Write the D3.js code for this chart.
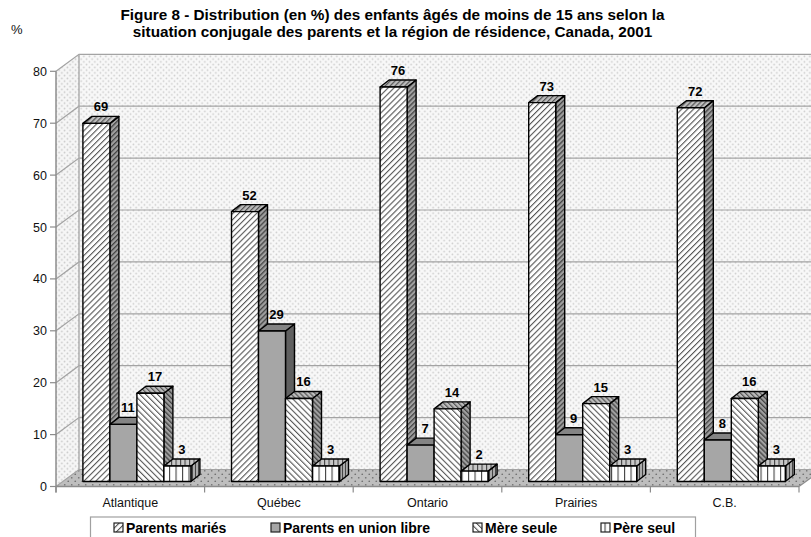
<!DOCTYPE html>
<html>
<head>
<meta charset="utf-8">
<script src="https://cdn.jsdelivr.net/npm/d3@7"></script>
<style>
html,body{margin:0;padding:0;background:#fff;}
svg{display:block;font-family:"Liberation Sans",Arial,sans-serif;}
</style>
</head>
<body>
<svg id="chart" width="811" height="537"></svg>
<script>
const regions = ["Atlantique","Québec","Ontario","Prairies","C.B."];
const seriesNames = ["Parents mariés","Parents en union libre","Mère seule","Père seul"];
const maries = [69,52,76,73,72];
const unionLibre = [11,29,7,9,8];
const mereSeule = [17,16,14,15,16];
const pereSeul = [3,3,2,3,3];
const seriesValues = [maries,unionLibre,mereSeule,pereSeul];
const yTicks = [0,10,20,30,40,50,60,70,80];
const titleLines = ["Figure 8 - Distribution (en %) des enfants âgés de moins de 15 ans selon la","situation conjugale des parents et la région de résidence, Canada, 2001"];

const svg = d3.select("#chart");
const defs = svg.append("defs");

// Oblique projection of the plot box
const wallDx = 23, wallDy = 17;
const barDx = 9, barDy = 7;
const floorDx = 6.6, floorDy = 5;
const x = d3.scaleBand().domain(regions).range([56,799]);
const y = d3.scaleLinear().domain([0,80]).range([486.5,71.3]);
const groupWidth = 108;
const inner = d3.scaleBand().domain(d3.range(4)).range([0,groupWidth]);

function pattern(id,w,h,bg,draw,rot){
  const p = defs.append("pattern").attr("id",id).attr("patternUnits","userSpaceOnUse")
    .attr("width",w).attr("height",h);
  if(rot) p.attr("patternTransform",`rotate(${rot})`);
  p.append("rect").attr("width",w).attr("height",h).attr("fill",bg);
  draw(p);
}
const dots = (col,r,s)=>p=>{
  p.append("circle").attr("cx",s/4).attr("cy",s/4).attr("r",r).attr("fill",col);
  p.append("circle").attr("cx",3*s/4).attr("cy",3*s/4).attr("r",r).attr("fill",col);
};
const stripes = (col,w,h)=>p=>{
  p.append("rect").attr("x",0).attr("y",0).attr("width",w).attr("height",h).attr("fill",col);
};
pattern("wall",5.5,5.5,"#f8f8f8",dots("#cbcbcb",0.85,5.5));
pattern("sideWall",5.5,5.5,"#f6f6f6",dots("#c6c6c6",0.85,5.5));
pattern("floor",7,7,"#bebebe",dots("#707070",0.85,7));
pattern("hatchUp",4.2,4.2,"#fff",stripes("#555",1.1,4.2),45);
pattern("hatchDown",4.2,4.2,"#fff",stripes("#555",1.1,4.2),-45);
pattern("hatchUpDark",3.5,3.5,"#bdbdbd",stripes("#555",1.2,3.5),45);
pattern("hatchDownDark",3.5,3.5,"#bdbdbd",stripes("#555",1.2,3.5),-45);
pattern("hatchUpSide",3.5,3.5,"#a0a0a0",stripes("#444",1.3,3.5),45);
pattern("hatchDownSide",3.5,3.5,"#a0a0a0",stripes("#444",1.3,3.5),-45);
pattern("vert",6.5,6,"#fff",stripes("#444",1.1,6));
pattern("vertTop",4.5,6,"#c8c8c8",stripes("#444",1.1,6));
pattern("vertSide",3,6,"#aaa",stripes("#444",1,6));

const fills = [
  {front:"url(#hatchUp)",top:"url(#hatchUpDark)",side:"url(#hatchUpSide)"},
  {front:"#a6a6a6",top:"#848484",side:"#606060"},
  {front:"url(#hatchDown)",top:"url(#hatchDownDark)",side:"url(#hatchDownSide)"},
  {front:"url(#vert)",top:"url(#vertTop)",side:"url(#vertSide)"}
];

const pts = a=>a.map(d=>d.join(",")).join(" ");
const x0 = x.range()[0], x1 = x.range()[1], y0 = y(0), yTop = y(80);

// Walls and floor
const box = svg.append("g");
box.append("polygon").attr("points",pts([[x0+wallDx,yTop-wallDy],[815,yTop-wallDy],[815,y0-wallDy],[x0+wallDx,y0-wallDy]]))
  .attr("fill","url(#wall)");
box.append("polygon").attr("points",pts([[x0,yTop],[x0+wallDx,yTop-wallDy],[x0+wallDx,y0-wallDy],[x0,y0]]))
  .attr("fill","url(#sideWall)");
box.append("polygon").attr("points",pts([[x0,y0],[x0+wallDx,y0-wallDy],[x1+wallDx,y0-wallDy],[x1,y0]]))
  .attr("fill","url(#floor)");

// Gridlines run along the side wall then across the back wall
box.selectAll("polyline.grid").data(yTicks).join("polyline").attr("class","grid")
  .attr("points",d=>pts([[x0,y(d)],[x0+wallDx,y(d)-wallDy],[815,y(d)-wallDy]]))
  .attr("fill","none").attr("stroke","#a3a3a3").attr("stroke-width",1.2);
box.append("line").attr("x1",x0+wallDx).attr("x2",x0+wallDx).attr("y1",yTop-wallDy).attr("y2",y0-wallDy)
  .attr("stroke","#aaa").attr("stroke-width",1.4);

// Axes
const axisColor = "#8c8c8c";
const axes = svg.append("g");
axes.append("line").attr("x1",x0).attr("x2",x0).attr("y1",yTop).attr("y2",y0+6).attr("stroke",axisColor).attr("stroke-width",1.5);
axes.append("line").attr("x1",x0).attr("x2",x1).attr("y1",y0).attr("y2",y0).attr("stroke",axisColor).attr("stroke-width",1.5);
axes.append("line").attr("x1",x1).attr("x2",x1+wallDx).attr("y1",y0).attr("y2",y0-wallDy).attr("stroke",axisColor).attr("stroke-width",1.2);
axes.selectAll("line.ytick").data(yTicks).join("line").attr("class","ytick")
  .attr("x1",x0-6).attr("x2",x0).attr("y1",d=>y(d)).attr("y2",d=>y(d))
  .attr("stroke",axisColor).attr("stroke-width",1.2);
axes.selectAll("text.ylab").data(yTicks).join("text").attr("class","ylab")
  .attr("x",x0-9).attr("y",d=>y(d)+4.5).attr("text-anchor","end").attr("font-size",12.5).attr("fill","#111")
  .text(d=>d);
const xEdges = regions.map(r=>x(r)).concat([x1]);
axes.selectAll("line.xtick").data(xEdges).join("line").attr("class","xtick")
  .attr("x1",d=>d).attr("x2",d=>d).attr("y1",y0).attr("y2",y0+6)
  .attr("stroke",axisColor).attr("stroke-width",1.2);
axes.selectAll("text.xlab").data(regions).join("text").attr("class","xlab")
  .attr("x",d=>x(d)+x.bandwidth()/2).attr("y",507).attr("text-anchor","middle")
  .attr("font-size",12.5).attr("fill","#111").text(d=>d);

// Bars: back-to-front painting, left to right inside each group
const barBase = y0 - floorDy;
const scale = (y(0)-y(10))/10;
const bars = svg.append("g").attr("stroke","#000").attr("stroke-width",1.4).attr("stroke-linejoin","round");
regions.forEach((region,ri)=>{
  const gx = x(region) + (x.bandwidth()-groupWidth)/2 + floorDx;
  seriesValues.forEach((vals,si)=>{
    const v = vals[ri];
    const bx = gx + inner(si), w = inner.bandwidth(), top = barBase - v*scale;
    const g = bars.append("g");
    g.append("polygon").attr("points",pts([[bx+w,top],[bx+w+barDx,top-barDy],[bx+w+barDx,barBase-barDy],[bx+w,barBase]])).attr("fill",fills[si].side);
    g.append("polygon").attr("points",pts([[bx,top],[bx+barDx,top-barDy],[bx+w+barDx,top-barDy],[bx+w,top]])).attr("fill",fills[si].top);
    g.append("rect").attr("x",bx).attr("y",top).attr("width",w).attr("height",barBase-top).attr("fill",fills[si].front);
  });
});
const labels = svg.append("g");
regions.forEach((region,ri)=>{
  const gx = x(region) + (x.bandwidth()-groupWidth)/2 + floorDx;
  seriesValues.forEach((vals,si)=>{
    const v = vals[ri];
    labels.append("text").attr("x",gx+inner(si)+inner.bandwidth()/2+barDx/2)
      .attr("y",barBase - v*scale - barDy - 5).attr("text-anchor","middle")
      .attr("font-size",13).attr("font-weight","bold").attr("fill","#000").text(v);
  });
});

// Title and unit
svg.selectAll("text.title").data(titleLines).join("text").attr("class","title")
  .attr("x",392.5).attr("y",(d,i)=>20+i*17).attr("text-anchor","middle")
  .attr("font-size",15.3).attr("font-weight","bold").attr("fill","#000").text(d=>d);
svg.append("text").attr("x",11).attr("y",33.5).attr("font-size",13).attr("fill","#111").text("%");

// Legend
const legend = svg.append("g");
legend.append("rect").attr("x",90.5).attr("y",517).attr("width",605).attr("height",30).attr("fill","#fff").attr("stroke","#a0a0a0").attr("stroke-width",1.2);
const legendX = d3.scaleOrdinal().domain(seriesNames).range([114,271,473,601]);
seriesNames.forEach((name,i)=>{
  const lx = legendX(name);
  legend.append("rect").attr("x",lx).attr("y",523).attr("width",9).attr("height",9).attr("fill",fills[i].front).attr("stroke","#222").attr("stroke-width",1.2);
  legend.append("text").attr("x",lx+12).attr("y",532.7).attr("font-size",14).attr("font-weight","bold").attr("fill","#000").text(name);
});
</script>
</body>
</html>
